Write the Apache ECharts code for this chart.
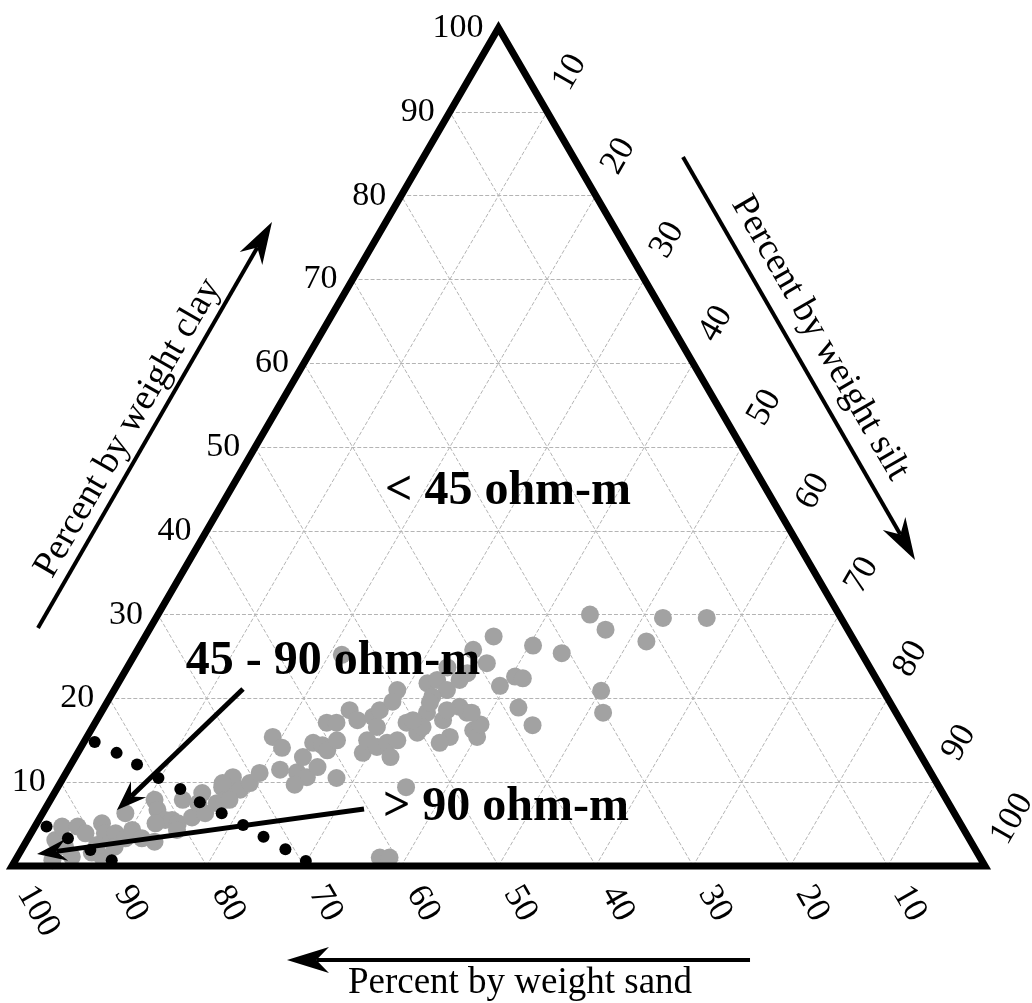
<!DOCTYPE html>
<html>
<head>
<meta charset="utf-8">
<script src="https://cdn.jsdelivr.net/npm/echarts@6/dist/echarts.min.js"></script>
<style>
html,body{margin:0;padding:0;background:#fff;}
#c{width:1032px;height:1003px;}
</style>
</head>
<body>
<div id="c"></div>
<script>
// ---- data (percent by weight) ----
const ticks = [10, 20, 30, 40, 50, 60, 70, 80, 90, 100];
const tickLabels = ['10', '20', '30', '40', '50', '60', '70', '80', '90', '100'];

// gray samples: sand %, clay % (silt = 100 - sand - clay)
const graySand = [94.0,92.5,93.4,95.5,93.3,90.9,90.5,91.0,88.2,88.5,90.2,87.4,88.3,86.7,85.5,85.0,83.9,85.2,81.4,81.7,81.5,80.8,80.4,82.7,80.9,78.5,78.6,77.1,76.1,77.0,75.2,73.7,72.9,74.2,72.0,72.0,70.6,69.0,73.7,73.4,90.0,
  66.7,65.1,64.4,66.1,62.7,63.6,65.5,65.2,61.7,60.9,60.7,59.1,61.4,59.1,58.1,56.0,55.8,54.0,57.2,56.0,55.4,54.1,52.9,53.5,54.6,
  49.9,46.4,45.2,44.8,42.9,52.9,51.1,46.7,48.2,54.2,50.9,50.4,49.5,47.0,44.5,44.1,47.3,48.7,44.5,44.5,41.7,50.1,47.3,46.0,43.4,
  39.7,39.1,36.8,39.1,37.0,36.3,38.5,43.4,38.1,33.3,30.8,25.6,24.9,21.4,18.3,13.8,29.0,30.1,43.6,
  54.8,61.7,60.7];
const grayClay = [3.1,4.7,2.3,0.7,1.1,4.7,3.9,1.6,5.1,3.9,1.1,3.9,2.3,3.3,4.3,3.3,2.9,6.3,7.9,6.7,5.5,5.5,5.1,5.1,4.3,7.9,5.8,7.5,8.7,6.3,7.5,9.4,9.1,7.9,10.6,9.1,9.9,11.1,7.9,9.9,2.5,
  11.5,11.2,10.6,9.7,11.8,13.0,15.4,14.1,14.7,14.4,13.8,15.0,10.5,17.1,17.1,18.6,17.4,17.8,13.5,15.0,14.2,14.7,15.0,25.2,13.0,
  21.0,21.8,22.2,21.0,22.2,18.6,19.6,20.2,18.3,16.6,17.1,15.9,16.6,17.4,19.0,18.3,15.4,14.7,16.2,15.4,23.0,17.4,19.5,18.6,23.7,
  25.8,24.2,27.4,21.5,22.6,22.4,18.9,16.9,16.8,26.3,25.4,30.0,28.2,26.8,29.6,29.6,20.9,18.3,18.3,
  9.4,1.0,1.0];

// black boundary dots: sand %, clay %
const blackSand = [84.1,82.5,81.1,79.7,78.1,76.9,75.3,73.8,72.4,70.9,69.5, 94.1,92.6,91.0,89.4];
const blackClay = [14.8,13.5,12.1,10.5,9.2,7.6,6.3,4.9,3.5,2.0,0.6, 4.7,3.3,1.9,0.7];

const regionTexts = ['< 45 ohm-m', '45 - 90 ohm-m', '> 90 ohm-m'];
const axisTitles = ['Percent by weight clay', 'Percent by weight silt', 'Percent by weight sand'];

// ---- helpers ----
function xy(sand, clay) { const silt = 100 - sand - clay; return [silt + clay / 2, clay]; }

const grayData = graySand.map((s, i) => xy(s, grayClay[i]));
const blackData = blackSand.map((s, i) => xy(s, blackClay[i]));

const gridSegs = [];
ticks.filter(t => t < 100).forEach(t => {
  gridSegs.push({ coords: [[t / 2, t], [100 - t / 2, t]] });            // constant clay
  gridSegs.push({ coords: [[100 - t, 0], [(100 - t) / 2, 100 - t]] });  // constant sand
  gridSegs.push({ coords: [[t, 0], [t + (100 - t) / 2, 100 - t]] });    // constant silt
});

const chart = echarts.init(document.getElementById('c'), null, { renderer: 'canvas' });
const FONT = '"Liberation Serif", "Times New Roman", serif';

chart.setOption({
  animation: false,
  backgroundColor: '#fff',
  grid: { left: 12, right: 47, top: 28, bottom: 137 },
  xAxis: { type: 'value', min: 0, max: 100, show: false },
  yAxis: { type: 'value', min: 0, max: 100, show: false },
  series: [
    {
      type: 'lines', coordinateSystem: 'cartesian2d', silent: true, z: 1,
      lineStyle: { color: '#b4b4b4', width: 1, type: [4, 2], opacity: 1 },
      data: gridSegs
    },
    {
      type: 'scatter', z: 2, silent: true, symbol: 'circle', symbolSize: 18,
      itemStyle: { color: '#a2a2a2', opacity: 1 },
      data: grayData
    },
    {
      type: 'custom', z: 3, silent: true, clip: false,
      renderItem: function (params, api) {
        const a = api.coord([0, 0]), b = api.coord([100, 0]), c = api.coord([50, 100]);
        return { type: 'polygon', shape: { points: [a, b, c] },
          style: { fill: 'none', stroke: '#000', lineWidth: 7, lineJoin: 'miter' } };
      },
      data: [[0, 0]]
    },
    {
      type: 'scatter', z: 4, silent: true, symbol: 'circle', symbolSize: 12,
      itemStyle: { color: '#000', opacity: 1 },
      data: blackData
    }
  ]
});

function P(x, y) { return chart.convertToPixel({ gridIndex: 0 }, [x, y]); }

function arrow(tail, tip, lw, L, W, notch) {
  const dx = tip[0] - tail[0], dy = tip[1] - tail[1], len = Math.hypot(dx, dy);
  const ux = dx / len, uy = dy / len, nx = -uy, ny = ux;
  const base = [tip[0] - ux * L * notch, tip[1] - uy * L * notch];
  return [
    { type: 'line', z: 10, shape: { x1: tail[0], y1: tail[1], x2: base[0], y2: base[1] },
      style: { stroke: '#000', lineWidth: lw } },
    { type: 'polygon', z: 10, shape: { points: [
        [tip[0], tip[1]],
        [tip[0] - ux * L + nx * W, tip[1] - uy * L + ny * W],
        base,
        [tip[0] - ux * L - nx * W, tip[1] - uy * L - ny * W]] },
      style: { fill: '#000' } }
  ];
}

function txt(p, text, size, weight, align, rot) {
  return { type: 'text', z: 12, x: p[0], y: p[1], rotation: rot || 0,
    style: { text: text, font: weight + ' ' + size + 'px ' + FONT, fill: '#000',
      align: align, verticalAlign: 'middle', textAlign: align, textVerticalAlign: 'middle' } };
}

const els = [];
const up = [0.5, -Math.sqrt(3) / 2];   // up-right
const dn = [0.5, Math.sqrt(3) / 2];    // down-right

ticks.forEach((t, i) => {
  // clay ticks on the left edge
  const pc = P(t / 2, t);
  els.push(txt([pc[0] - 15, pc[1]], tickLabels[i], 34, 'normal', 'right', 0));
  // silt ticks on the right edge
  const ps = P(t + (100 - t) / 2, 100 - t);
  els.push(txt([ps[0] + up[0] * 28, ps[1] + up[1] * 28], tickLabels[i], 35, 'normal', 'left', Math.PI / 3));
  // sand ticks on the bottom edge
  const pb = P(100 - t, 0);
  els.push(txt([pb[0] + dn[0] * 26, pb[1] + dn[1] * 26], tickLabels[i], 35, 'normal', 'left', -Math.PI / 3));
});

// region labels
els.push(txt(P(50.98, 44.63), regionTexts[0], 48, 'bold', 'center', 0));
els.push(txt(P(32.99, 24.34), regionTexts[1], 48, 'bold', 'center', 0));
els.push(txt(P(50.77, 6.92), regionTexts[2], 48, 'bold', 'center', 0));

// annotation arrows
els.push(...arrow(P(23.74, 21.12), P(10.79, 6.68), 5, 30, 11, 0.65));
els.push(...arrow(P(36.18, 6.80), P(2.57, 1.43), 5, 30, 11, 0.65));

// axis titles and arrows
els.push(txt(P(11.92, 52.27), axisTitles[0], 37, 'normal', 'center', Math.PI / 3));
els.push(...arrow(P(2.67, 28.40), P(26.72, 76.85), 4, 42, 13, 0.7));
els.push(txt(P(83.04, 63.01), axisTitles[1], 37, 'normal', 'center', -Math.PI / 3));
els.push(...arrow(P(68.96, 84.61), P(92.81, 36.52), 4, 42, 13, 0.7));
els.push(txt(P(52.21, -13.96), axisTitles[2], 37, 'normal', 'center', 0));
els.push(...arrow(P(75.85, -11.22), P(28.26, -11.22), 4, 42, 13, 0.7));

chart.setOption({ graphic: { elements: els } });
</script>
</body>
</html>
